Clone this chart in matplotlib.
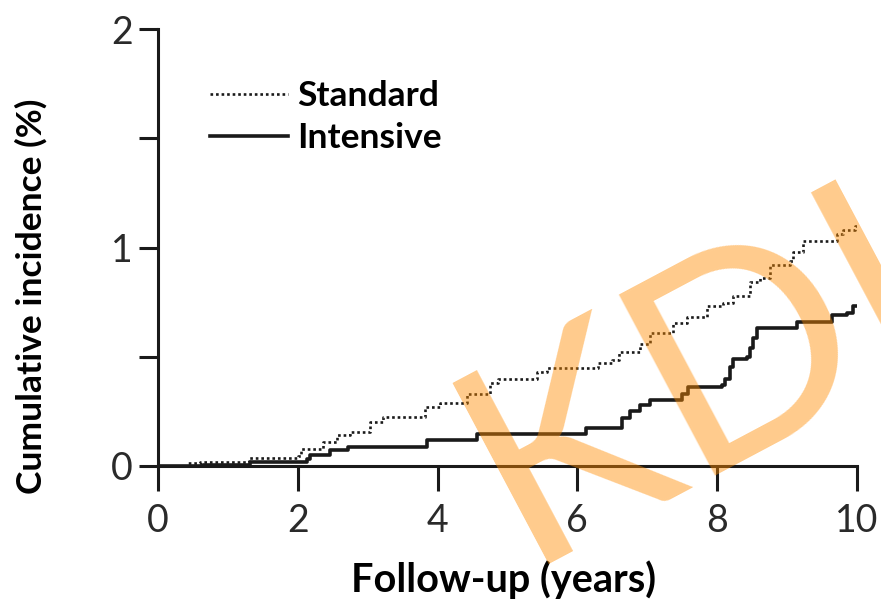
import numpy as np
import matplotlib
matplotlib.use('Agg')
import matplotlib.pyplot as plt

# ---------------------------------------------------------------------------
# Data (years vs cumulative incidence %)
# ---------------------------------------------------------------------------

std_t = [0.0, 0.43, 0.6, 1.3, 2.0, 2.05, 2.36, 2.56, 2.75, 3.03, 3.22, 3.82,
         4.03, 4.42, 4.75, 4.86, 5.42, 5.56, 6.30, 6.50, 6.60, 6.90, 7.04,
         7.37, 7.57, 7.85, 8.08, 8.23, 8.47, 8.61, 8.76, 9.04, 9.08, 9.23,
         9.71, 9.80, 9.97, 10.0]
std_v = [0.0, 0.014, 0.02, 0.035, 0.045, 0.078, 0.11, 0.14, 0.155, 0.20, 0.225, 0.27,
         0.29, 0.33, 0.38, 0.40, 0.43, 0.45, 0.47, 0.485, 0.52, 0.56, 0.61,
         0.655, 0.68, 0.73, 0.745, 0.78, 0.84, 0.86, 0.92, 0.94, 0.98, 1.03,
         1.06, 1.08, 1.10, 1.10]

int_t = [0.0, 0.64, 1.32, 2.13, 2.17, 2.46, 2.72, 3.85, 4.56, 6.13, 6.64, 6.76,
         6.90, 7.04, 7.50, 7.58, 8.07, 8.11, 8.18, 8.23, 8.43, 8.47, 8.51, 8.57,
         9.14, 9.64, 9.86, 9.94, 10.0]
int_v = [0.0, 0.005, 0.02, 0.03, 0.05, 0.073, 0.087, 0.12, 0.146, 0.175, 0.22, 0.25,
         0.28, 0.30, 0.33, 0.36, 0.37, 0.40, 0.455, 0.49, 0.50, 0.54, 0.585, 0.63,
         0.66, 0.69, 0.70, 0.73, 0.73]

x_ticks = [0, 2, 4, 6, 8, 10]
y_ticks = [0, 0.5, 1, 1.5, 2]
y_tick_labels = ['0', '', '1', '', '2']

# ---------------------------------------------------------------------------
# Plot
# ---------------------------------------------------------------------------

fig = plt.figure(figsize=(8.81, 6.03), dpi=100)
ax = fig.add_axes([0.1793, 0.2272, 0.7934, 0.7247])

ax.step(std_t, std_v, where='post', color='#1a1a1a', linewidth=1.9,
        linestyle=(0, (1.0, 1.1)), label='Standard')
ax.step(int_t, int_v, where='post', color='#1a1a1a', linewidth=2.6,
        label='Intensive')

ax.set_xlim(0, 10)
ax.set_ylim(0, 2)
for side in ['top', 'right']:
    ax.spines[side].set_visible(False)
for side in ['left', 'bottom']:
    ax.spines[side].set_linewidth(2.2)
    ax.spines[side].set_color('#1a1a1a')

tick_font = dict(family='Lato', size=27, color='#2a2a2a')
ax.set_xticks(x_ticks)
ax.set_xticklabels([str(t) for t in x_ticks], fontdict=tick_font)
ax.set_yticks(y_ticks)
ax.set_yticklabels(y_tick_labels, fontdict=tick_font)
ax.tick_params(axis='x', length=18, width=2.2, color='#1a1a1a', pad=9)
ax.tick_params(axis='y', length=14, width=2.2, color='#1a1a1a', pad=4)

ax.set_xlabel('Follow-up (years)', fontdict=dict(family='Lato', size=28.5, weight='bold'))
ax.set_ylabel('Cumulative incidence (%)', fontdict=dict(family='Lato', size=25.5, weight='bold'))
ax.xaxis.set_label_coords(0.494, -0.215)
ax.yaxis.set_label_coords(-0.158, 0.389)

ax.legend(loc='upper left', bbox_to_anchor=(0.049, 0.924), frameon=False,
          prop=dict(family='Lato', size=25.5, weight='bold'),
          handlelength=2.2, handletextpad=0.25, labelspacing=0.29, borderpad=0)

# watermark
fig.text(0.594, 0.064, 'KDI', fontsize=206, family='Lato', color='#FF8C00',
         alpha=0.45, rotation=28, rotation_mode='anchor',
         ha='left', va='baseline', zorder=5)

fig.savefig('out.png', dpi=100)
